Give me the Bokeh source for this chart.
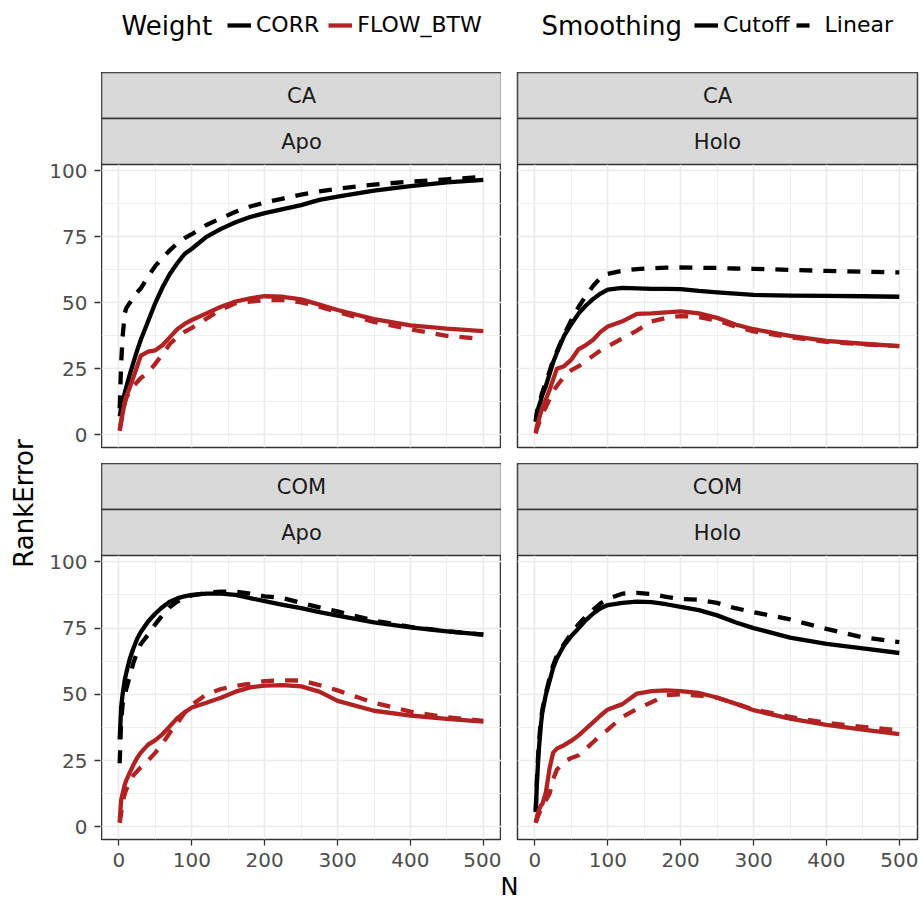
from math import pi
from bokeh.plotting import figure
from bokeh.layouts import column, row
from bokeh.models import Range1d, LinearAxis, FixedTicker, Legend, LegendItem, Label
from bokeh.embed import file_html
from bokeh.resources import INLINE
from bokeh.core.properties import value

FONT = "DejaVu Sans"

# ---------------- data ----------------
n_values = [1, 3, 5, 8, 10, 15, 20, 25, 30, 40, 50, 60, 70, 80, 90, 100,
            120, 140, 160, 180, 200, 225, 250, 275, 300, 350, 400, 450, 500]

ca_apo_corr_cutoff = [7, 10, 12.5, 16, 18, 23, 27.5, 32, 36, 43, 50, 56, 61, 65, 68.5, 70.5,
                      75, 78, 80.5, 82.5, 84, 85.5, 87, 89, 90.2, 92.5, 94.2, 95.6, 96.6]
ca_apo_corr_linear = [10, 27, 37, 46, 48, 50, 52, 54, 55.5, 60, 64, 67, 70, 72.5, 74.5, 76,
                      79.5, 82, 84.5, 86.5, 88, 89.5, 91, 92.2, 93.2, 94.8, 95.9, 96.8, 97.7]
ca_apo_flow_cutoff = [1.5, 5, 8, 12.5, 14.5, 18, 22, 26, 30, 31.5, 32, 34, 37, 40, 42, 43.5,
                      46, 48.5, 50.5, 51.7, 52.5, 52.3, 51.3, 49.3, 47.3, 43.8, 41.5, 40.2, 39.3]
ca_apo_flow_linear = [2, 5, 8, 12, 14, 16.5, 18.5, 20, 21.5, 23.5, 27, 30.5, 34.5, 37, 39, 40.5,
                      44, 47.5, 49.8, 50.5, 51, 51, 50.2, 48.5, 46.5, 42.8, 40, 37.5, 36.3]

ca_holo_corr_cutoff = [5, 8.8, 10.5, 13, 15, 18.5, 23, 27.5, 31, 37.5, 42, 46, 49, 51.5, 53.5, 55,
                       55.7, 55.5, 55.3, 55.3, 55.2, 54.5, 54, 53.5, 53, 52.7, 52.6, 52.5, 52.3]
ca_holo_corr_linear = [5, 8.8, 11, 14, 16, 20, 24, 28.5, 31.5, 38, 43.5, 48.5, 52.7, 56.5, 59.5, 61,
                       62.2, 62.8, 63.1, 63.3, 63.4, 63.3, 63.2, 63, 62.9, 62.5, 62.1, 61.8, 61.5]
ca_holo_flow_cutoff = [1, 3.5, 5.5, 8.5, 10, 13.5, 17, 21, 25, 26, 28.5, 32.5, 34, 36, 39, 41,
                       43, 45.8, 46, 46.4, 46.8, 46, 44.3, 41.8, 40, 37.5, 35.6, 34.5, 33.6]
ca_holo_flow_linear = [0.5, 2.5, 4, 6.5, 8, 10.5, 13.5, 16.5, 18.5, 22, 24.5, 26, 28, 30, 32, 33.5,
                       36.5, 39.5, 43, 44.3, 45, 44.6, 43.3, 41, 39.2, 37, 35.2, 34.3, 33.6]

com_apo_corr_cutoff = [33, 45, 50, 55.5, 58, 63.5, 67.5, 71, 73.5, 77.5, 80.5, 83, 85, 86.2, 87, 87.5,
                       88, 88, 87.5, 86.3, 85.2, 83.8, 82.5, 81, 79.7, 77.2, 75.3, 73.8, 72.5]
com_apo_corr_linear = [24, 40, 46, 50, 52, 57, 62, 66, 69, 72.5, 76.5, 80, 83, 85, 86.5, 87.3,
                       88.3, 88.8, 88.8, 88, 87, 86.3, 84.5, 82.8, 81.3, 77.8, 75.5, 73.8, 72.5]
com_apo_flow_cutoff = [2, 10, 12.5, 16, 17.5, 20.5, 23.5, 26, 28, 31, 32.7, 35, 38, 41, 43.2, 45,
                       46.8, 48.7, 51, 52.6, 53.3, 53.5, 53, 51, 47.5, 43.8, 42, 40.7, 39.7]
com_apo_flow_linear = [1.5, 5, 9, 12.5, 14, 17, 19.5, 21, 22.5, 25, 28, 31.5, 35.6, 39, 43, 46,
                       50, 52, 53.2, 54, 55, 55.3, 55.2, 53.5, 51.5, 46.8, 43.5, 41.3, 40]

com_holo_corr_cutoff = [5.5, 18, 28, 38, 43, 50, 55, 60, 63.5, 68.5, 72, 75, 78, 80.5, 82.5, 83.7,
                        84.5, 85, 84.8, 84, 83, 81.8, 79.8, 77.2, 75, 71.4, 69, 67.3, 65.6]
com_holo_corr_linear = [6, 20, 30, 40, 44, 50.5, 56, 61, 64.5, 69, 73, 76.5, 79.5, 82, 84.3, 86,
                        88, 88.3, 87.8, 86.8, 86, 85.7, 84.5, 82.5, 81, 78.3, 74.7, 71.5, 69.7]
com_holo_flow_cutoff = [1.5, 4, 6, 8, 8.5, 13, 22, 28, 29.5, 30.8, 32.5, 34.5, 37, 39.5, 42, 44.3,
                        46.3, 50.3, 51.2, 51.5, 51.2, 50.5, 48.8, 46.5, 44, 40.8, 38.5, 36.7, 35]
com_holo_flow_linear = [1.5, 3, 4.5, 6.5, 7.5, 10, 12.5, 18, 21.5, 24.5, 26, 27, 29.5, 32, 34.5, 36.7,
                        41.5, 44.5, 47, 49.7, 50, 49.5, 48.7, 46.5, 44.3, 41.5, 39.2, 37.7, 36.4]

x_ticks = [0, 100, 200, 300, 400, 500]
x_minor = [50, 150, 250, 350, 450]
y_ticks = [0, 25, 50, 75, 100]
y_minor = [12.5, 37.5, 62.5, 87.5]

row_levels = ["CA", "COM"]
col_levels = ["Apo", "Holo"]
weights = ["CORR", "FLOW_BTW"]
smoothings = ["Cutoff", "Linear"]

weight_colors = {"CORR": "#000000", "FLOW_BTW": "#B22222"}
smoothing_dash = {"Cutoff": "solid", "Linear": "13 11"}

series = {
    ("CA", "Apo"): {("CORR", "Cutoff"): ca_apo_corr_cutoff, ("CORR", "Linear"): ca_apo_corr_linear,
                    ("FLOW_BTW", "Cutoff"): ca_apo_flow_cutoff, ("FLOW_BTW", "Linear"): ca_apo_flow_linear},
    ("CA", "Holo"): {("CORR", "Cutoff"): ca_holo_corr_cutoff, ("CORR", "Linear"): ca_holo_corr_linear,
                     ("FLOW_BTW", "Cutoff"): ca_holo_flow_cutoff, ("FLOW_BTW", "Linear"): ca_holo_flow_linear},
    ("COM", "Apo"): {("CORR", "Cutoff"): com_apo_corr_cutoff, ("CORR", "Linear"): com_apo_corr_linear,
                     ("FLOW_BTW", "Cutoff"): com_apo_flow_cutoff, ("FLOW_BTW", "Linear"): com_apo_flow_linear},
    ("COM", "Holo"): {("CORR", "Cutoff"): com_holo_corr_cutoff, ("CORR", "Linear"): com_holo_corr_linear,
                      ("FLOW_BTW", "Cutoff"): com_holo_flow_cutoff, ("FLOW_BTW", "Linear"): com_holo_flow_linear},
}

# ---------------- layout constants ----------------
TOTAL_W = 920
YLAB_W = 39
AXIS_W = 61
GAP = 16
RIGHT_PAD = 4
FRAME_W = 400
STRIP_H = 92
LEGEND_H = 72
TOP_FRAME_H = 283
BOT_FRAME_H = 284
BOT_AXIS_H = 33
XLAB_H = 30
BORDER = "#333333"
LINE_W = 4.3
LINE_LEFT = [0, GAP]
LINE_RIGHT = [0, RIGHT_PAD]
X_RANGE = (-23.95, 524.95)
Y_RANGE = (-4.8, 102.4)


def base_fig(width_frame, height_frame, xr, yr, left, bottom=0, right=0, top=0):
    f = figure(frame_width=width_frame, frame_height=height_frame, x_range=xr, y_range=yr,
               x_axis_location=None, y_axis_location=None, toolbar_location=None,
               output_backend="svg", min_border_left=left, min_border_right=right,
               min_border_top=top, min_border_bottom=bottom)
    f.background_fill_color = "white"
    f.border_fill_color = "white"
    f.outline_line_color = None
    return f


def style_axis(ax, standoff):
    ax.axis_line_color = None
    ax.major_tick_line_color = BORDER
    ax.major_tick_line_width = 1.3
    ax.major_tick_out = 6
    ax.major_tick_in = 0
    ax.minor_tick_line_color = None
    ax.major_label_text_font = FONT
    ax.major_label_text_font_size = "20px"
    ax.major_label_text_color = "#4D4D4D"
    ax.major_label_standoff = standoff


def make_strip(top_txt, bottom_txt, c):
    s = base_fig(FRAME_W, STRIP_H, Range1d(0, 1), Range1d(0, 2), LINE_LEFT[c], right=LINE_RIGHT[c])
    s.grid.visible = False
    s.quad(left=[0, 0], right=[1, 1], bottom=[1, 0], top=[2, 1],
           fill_color="#D9D9D9", line_color=BORDER, line_width=1.5)
    s.text(x=[0.5, 0.5], y=[1.5, 0.5], text=[top_txt, bottom_txt],
           text_align="center", text_baseline="middle", text_font=value(FONT),
           text_font_size="21px", text_color="#1A1A1A")
    s.outline_line_color = BORDER
    s.outline_line_width = 1.5
    return s


def make_panel(r, c):
    fh = TOP_FRAME_H if r == 0 else BOT_FRAME_H
    p = base_fig(FRAME_W, fh, Range1d(*X_RANGE), Range1d(*Y_RANGE),
                 LINE_LEFT[c], bottom=GAP if r == 0 else BOT_AXIS_H, right=LINE_RIGHT[c])
    p.outline_line_color = BORDER
    p.outline_line_width = 1.5
    p.xgrid.ticker = FixedTicker(ticks=x_ticks, minor_ticks=x_minor)
    p.ygrid.ticker = FixedTicker(ticks=y_ticks, minor_ticks=y_minor)
    for g in (p.xgrid, p.ygrid):
        g.grid_line_color = "#EBEBEB"
        g.grid_line_width = 1.6
        g.minor_grid_line_color = "#EBEBEB"
        g.minor_grid_line_width = 0.8

    if r == 1:
        xa = LinearAxis(ticker=FixedTicker(ticks=x_ticks))
        style_axis(xa, 7)
        p.add_layout(xa, "below")

    data = series[(row_levels[r], col_levels[c])]
    for w in weights:
        for sm in smoothings:
            p.line(n_values, data[(w, sm)], line_color=weight_colors[w],
                   line_width=LINE_W, line_dash=smoothing_dash[sm], line_join="round")
    return p


def make_yaxis_fig(r):
    fh = TOP_FRAME_H if r == 0 else BOT_FRAME_H
    a = base_fig(1, fh, Range1d(0, 1), Range1d(*Y_RANGE), AXIS_W,
                 bottom=GAP if r == 0 else BOT_AXIS_H, top=STRIP_H)
    a.grid.visible = False
    ya = LinearAxis(ticker=FixedTicker(ticks=y_ticks))
    style_axis(ya, 7)
    a.add_layout(ya, "left")
    return a


columns = []
for c in range(2):
    kids = []
    for r in range(2):
        kids.append(make_strip(row_levels[r], col_levels[c], c))
        kids.append(make_panel(r, c))
    columns.append(column(*kids, spacing=0))

axis_col = column(make_yaxis_fig(0), make_yaxis_fig(1), spacing=0)

# y-axis title (centred on the panel area, ref y ~503)
panels_h = 2 * STRIP_H + TOP_FRAME_H + GAP + BOT_FRAME_H
ylab = base_fig(YLAB_W, panels_h, Range1d(0, YLAB_W), Range1d(0, panels_h), 0)
ylab.grid.visible = False
ylab.add_layout(Label(x=23.5, y=(LEGEND_H + panels_h) - 503, text="RankError", angle=pi / 2,
                      text_align="center", text_baseline="middle", text_font=FONT,
                      text_font_size="26px", text_color="#000000"))

# x-axis title
xlab = base_fig(TOTAL_W, XLAB_H, Range1d(0, TOTAL_W), Range1d(0, XLAB_H), 0)
xlab.grid.visible = False
xlab.add_layout(Label(x=509, y=15.5, text="N", text_align="center", text_baseline="middle",
                      text_font=FONT, text_font_size="24px", text_color="#000000"))

# legend strip
LEG_Y = LEGEND_H - 25
lg = base_fig(TOTAL_W, LEGEND_H, Range1d(0, TOTAL_W), Range1d(0, LEGEND_H), 0)
lg.grid.visible = False
lg.add_layout(Label(x=121, y=LEG_Y, text="Weight", text_align="left",
                    text_baseline="middle", text_font=FONT, text_font_size="26px",
                    text_color="#000000"))
lg.add_layout(Label(x=541, y=LEG_Y, text="Smoothing", text_align="left",
                    text_baseline="middle", text_font=FONT, text_font_size="26px",
                    text_color="#000000"))

nan = float("nan")
w_items = []
for w in weights:
    rr = lg.line([nan], [nan], line_color=weight_colors[w], line_width=LINE_W)
    w_items.append(LegendItem(label=w, renderers=[rr]))
s_items = []
for sm in smoothings:
    rr = lg.line([nan], [nan], line_color="#000000", line_width=LINE_W, line_dash=smoothing_dash[sm])
    s_items.append(LegendItem(label=sm, renderers=[rr]))


def make_legend(items, x, spacing):
    return Legend(items=items, orientation="horizontal", location=(x, LEG_Y - 12),
                  glyph_width=24, glyph_height=24, label_height=24, label_standoff=5,
                  spacing=spacing, padding=0, margin=0, border_line_color=None,
                  background_fill_alpha=0, label_text_font=FONT, label_text_font_size="22px",
                  label_text_color="#000000")


lg.add_layout(make_legend(w_items, 227, 9))
lg.add_layout(make_legend(s_items, 694, 6))

layout = column(lg, row(ylab, axis_col, columns[0], columns[1], spacing=0), xlab, spacing=0)

open("out.html", "w").write(file_html(layout, INLINE))
